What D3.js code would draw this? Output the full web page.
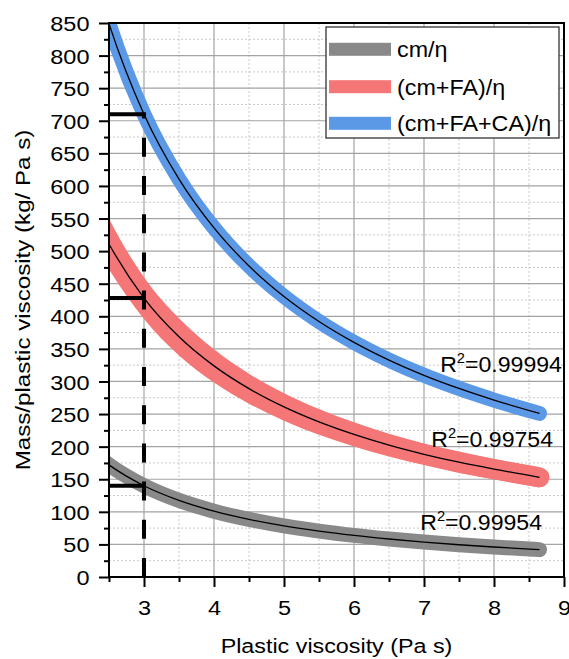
<!DOCTYPE html>
<html><head><meta charset="utf-8">
<script src="https://cdn.jsdelivr.net/npm/d3@7"></script>
<style>body{margin:0;background:#fff} text{font-family:"Liberation Sans",Arial,sans-serif;fill:#000}</style>
</head><body><svg id="c" width="569" height="659"></svg>
<script>
// ---- data ----
const viscosity   = [2.4, 2.5, 3, 3.5, 4, 4.5, 5, 5.5, 6, 6.5, 7, 7.5, 8, 8.65];
const cmRatio     = [180, 172, 140, 117.5, 101, 88.4, 78.4, 70.4, 63.8, 58.3, 53.6, 49.5, 46, 42];
const cmFARatio   = [531, 511, 428, 368.6, 323.9, 289, 260.9, 237.9, 218.7, 202.3, 188.3, 176.1, 165.5, 153];
const cmFACARatio = [883, 849, 710, 610.5, 535.6, 477.2, 430.4, 392, 360, 332.8, 309.5, 289.3, 271.5, 251];
// spread of the (cm+FA)/η measured band (upper / lower edge)
const cmFAUpper   = [572, 550, 460, 397, 349.5, 312, 282.1, 257.7, 237.3, 219.8, 204.9, 192.6, 181.1, 168.5];
const cmFALower   = [490, 472, 396, 340, 298.3, 266, 239.7, 218.1, 200.1, 184.8, 171.7, 159.6, 149.9, 137.5];
const seriesNames = ["cm/η", "(cm+FA)/η", "(cm+FA+CA)/η"];
const r2Values    = ["0.99954", "0.99754", "0.99994"];
const r2LabelX    = [8.686, 8.843, 8.971];
const r2LabelY    = [72.1, 199.4, 314.4];
const markerX     = 3;
const markerValues = [140, 428, 710];
const xTicks = [3, 4, 5, 6, 7, 8, 9];
const yTicks = d3.range(0, 851, 50);

const colors = ["#898989", "#f47676", "#5b98e6"];
const bandWidths = [15, 20, 15];

const svg = d3.select("#c");
const L = 109, R = 564, T = 23, B = 577;
const x = d3.scaleLinear().domain([2.5, 9]).range([L, R]);
const y = d3.scaleLinear().domain([0, 850]).range([B, T]);

const series = [cmRatio, cmFARatio, cmFACARatio];

// clip
svg.append("defs").append("clipPath").attr("id", "plot")
  .append("rect").attr("x", L).attr("y", T).attr("width", R - L).attr("height", B - T);

// grid
const minorX = d3.range(2.5, 9.01, 0.5).filter(v => Math.abs(v - Math.round(v)) > 0.1);
const minorY = d3.range(25, 850, 50);
const g = svg.append("g");
g.selectAll(".mx").data(minorX).join("line")
  .attr("x1", d => x(d)).attr("x2", d => x(d)).attr("y1", T).attr("y2", B)
  .attr("stroke", "#c8c8c8").attr("stroke-width", 1).attr("stroke-dasharray", "2,2");
g.selectAll(".my").data(minorY).join("line")
  .attr("x1", L).attr("x2", R).attr("y1", d => y(d)).attr("y2", d => y(d))
  .attr("stroke", "#c8c8c8").attr("stroke-width", 1).attr("stroke-dasharray", "2,2");
g.selectAll(".Mx").data(xTicks).join("line")
  .attr("x1", d => x(d)).attr("x2", d => x(d)).attr("y1", T).attr("y2", B)
  .attr("stroke", "#a3a3a3").attr("stroke-width", 1.2);
g.selectAll(".My").data(yTicks).join("line")
  .attr("x1", L).attr("x2", R).attr("y1", d => y(d)).attr("y2", d => y(d))
  .attr("stroke", "#a3a3a3").attr("stroke-width", 1.2);

// bands + fit lines
const line = d3.line().x((d, i) => x(viscosity[i])).y(d => y(d)).curve(d3.curveMonotoneX);
const area = d3.area().x((d, i) => x(viscosity[i]))
  .y0((d, i) => y(cmFALower[i])).y1((d, i) => y(cmFAUpper[i])).curve(d3.curveMonotoneX);
const plot = svg.append("g").attr("clip-path", "url(#plot)");
series.forEach((s, k) => {
  plot.append("path").attr("d", line(s)).attr("fill", "none")
    .attr("stroke", colors[k]).attr("stroke-width", bandWidths[k]).attr("stroke-linecap", "round");
  if (k === 1) plot.append("path").attr("d", area(s)).attr("fill", colors[k]);
});
series.forEach((s, k) => {
  plot.append("path").attr("d", line(s)).attr("fill", "none")
    .attr("stroke", "#000").attr("stroke-width", 1.3);
});

// markers
svg.append("line").attr("x1", x(markerX)).attr("x2", x(markerX))
  .attr("y1", y(0)).attr("y2", y(d3.max(markerValues)))
  .attr("stroke", "#000").attr("stroke-width", 4).attr("stroke-dasharray", "19,19.2");
svg.selectAll(".mk").data(markerValues).join("line")
  .attr("x1", L).attr("x2", x(markerX) + 2).attr("y1", d => y(d)).attr("y2", d => y(d))
  .attr("stroke", "#000").attr("stroke-width", 4);

// axes
const ax = svg.append("g").attr("transform", `translate(0,${B})`)
  .call(d3.axisBottom(x).tickValues(xTicks).tickFormat(d3.format("d")).tickSize(10).tickSizeOuter(0));
ax.select(".domain").remove();
ax.selectAll(".tick line").attr("stroke", "#000").attr("stroke-width", 2);
ax.selectAll(".tick text").attr("y", 38).attr("dy", 0).attr("font-size", 21)
  .attr("transform", "scale(1.12,1)");
svg.append("g").attr("transform", `translate(0,${B})`)
  .call(d3.axisBottom(x).tickValues(d3.range(2.5, 9, 1)).tickSize(5).tickFormat(""))
  .call(s => { s.select(".domain").remove(); s.selectAll("line").attr("stroke", "#000").attr("stroke-width", 2); });

const ay = svg.append("g").attr("transform", `translate(${L},0)`)
  .call(d3.axisLeft(y).tickValues(yTicks).tickFormat(d3.format("d")).tickSize(10).tickSizeOuter(0));
ay.select(".domain").remove();
ay.selectAll(".tick line").attr("stroke", "#000").attr("stroke-width", 2);
ay.selectAll(".tick text").attr("x", -19.5 / 1.12).attr("dy", "0.36em").attr("font-size", 21)
  .attr("transform", "scale(1.12,1)");
svg.append("g").attr("transform", `translate(${L},0)`)
  .call(d3.axisLeft(y).tickValues(minorY).tickSize(5).tickFormat(""))
  .call(s => { s.select(".domain").remove(); s.selectAll("line").attr("stroke", "#000").attr("stroke-width", 2); });

// frame
svg.append("line").attr("x1", L).attr("x2", L).attr("y1", T - 1).attr("y2", B + 1).attr("stroke", "#000").attr("stroke-width", 2);
svg.append("line").attr("x1", L - 1).attr("x2", R + 1).attr("y1", B).attr("y2", B).attr("stroke", "#000").attr("stroke-width", 2);
svg.append("line").attr("x1", L).attr("x2", R + 1).attr("y1", T).attr("y2", T).attr("stroke", "#000").attr("stroke-width", 2);
svg.append("line").attr("x1", R).attr("x2", R).attr("y1", T).attr("y2", B).attr("stroke", "#000").attr("stroke-width", 2);

// axis titles
svg.append("text").attr("transform", `translate(${(L + R) / 2},653) scale(1.11,1)`)
  .attr("text-anchor", "middle").attr("font-size", 21).text("Plastic viscosity (Pa s)");
svg.append("text").attr("transform", `translate(30,${(T + B) / 2}) rotate(-90) scale(1.15,1)`)
  .attr("text-anchor", "middle").attr("font-size", 21).text("Mass/plastic viscosity (kg/ Pa s)");

// R² labels
series.forEach((s, k) => {
  const t = svg.append("text")
    .attr("transform", `translate(${x(r2LabelX[k])},${y(r2LabelY[k])}) scale(1.05,1)`)
    .attr("text-anchor", "end").attr("font-size", 22);
  t.append("tspan").text("R");
  t.append("tspan").attr("font-size", 14).attr("dy", -9).text("2");
  t.append("tspan").attr("dy", 9).text("=" + r2Values[k]);
});

// legend
const lg = svg.append("g");
lg.append("rect").attr("x", 326).attr("y", 27).attr("width", 233).attr("height", 111)
  .attr("fill", "#fff").attr("stroke", "#333").attr("stroke-width", 1.3);
const legY = [49.3, 86.7, 123.3];
seriesNames.forEach((n, k) => {
  lg.append("rect").attr("x", 329).attr("y", legY[k] - 6.5).attr("width", 62).attr("height", 13).attr("fill", colors[k]);
  lg.append("text").attr("transform", `translate(397,${legY[k] + 8}) scale(1.06,1)`)
    .attr("font-size", 22).text(n);
});
</script></body></html>
